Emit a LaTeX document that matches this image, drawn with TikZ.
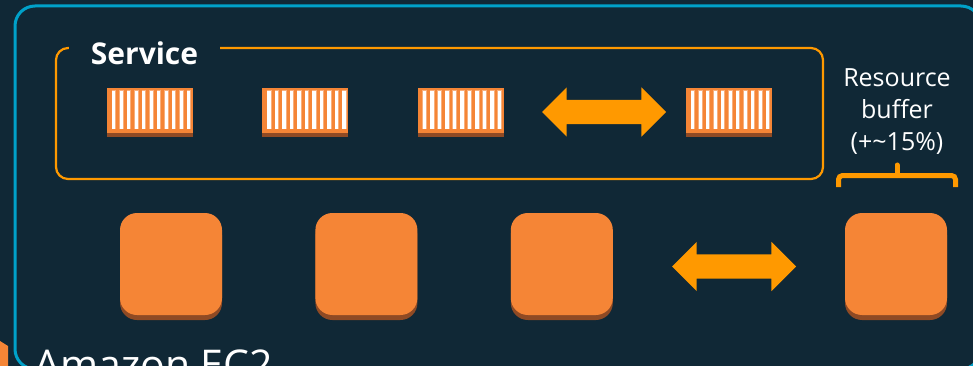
\documentclass[tikz,border=0pt]{standalone}
\usepackage{fontspec}
\setmainfont{Open Sans}
\usetikzlibrary{shapes.arrows, shadows, positioning}
\definecolor{navy}{HTML}{102836}
\definecolor{groupblue}{HTML}{00A1C9}
\definecolor{amber}{HTML}{FF9900}
\definecolor{ecorange}{HTML}{F58536}
\definecolor{ecshadow}{HTML}{8F4A24}

\begin{document}
\begin{tikzpicture}[x=1pt, y=-1pt,
        group/.style={draw=groupblue, line width=3pt, rounded corners=20pt},
        servicebox/.style={draw=amber, line width=2.2pt, rounded corners=12pt},
        server/.style={rectangle, fill=ecorange, rounded corners=17pt, minimum width=102pt, minimum height=102pt, inner sep=0pt,
            general shadow={fill=ecshadow, shadow yshift=-5pt}},
        container/.style={rectangle, fill=ecorange, minimum width=86pt, minimum height=45pt, inner sep=0pt,
            general shadow={fill=ecshadow, shadow yshift=-4pt},
            path picture={
                \foreach \i in {0,...,10} {
                    \fill[white, opacity=0.35] ([xshift={4.6pt+\i*7.5pt}, yshift=-2.5pt]path picture bounding box.north west) rectangle +(4.6pt, -39pt);
                    \fill[white] ([xshift={5pt+\i*7.5pt}, yshift=-3.5pt]path picture bounding box.north west) rectangle +(3.4pt, -38pt);
                }
            }},
        resize/.style={double arrow, fill=amber, minimum height=124pt, inner xsep=0pt, inner ysep=12pt,
            double arrow head extend=12.5pt, double arrow tip angle=90},
        brace/.style={draw=amber, line width=5pt, rounded corners=4pt},
        label/.style={text=white, font=\fontsize{25}{32}\selectfont, align=center}
    ]
        \useasboundingbox (0, 0) rectangle (973, 366);
        \fill[navy] (0, 0) rectangle (973, 366);

        % Outer group and the EC2 corner
        \draw [group] (15, 6) rectangle (981, 369);
        \fill [ecorange] (0, 341) -- (8, 346) -- (8, 366) -- (0, 366) -- cycle;
        \node (ec2) [anchor=base west, text=white, font=\fontsize{41}{41}\selectfont, inner sep=0pt] at (34, 379) {Amazon EC2};

        % Service
        \draw [servicebox] (56, 48) rectangle (823, 179);
        \node (service) [fill=navy, text=white, font=\fontsize{30}{30}\selectfont\bfseries, minimum width=151pt, minimum height=36pt, inner sep=0pt] at (144.5, 53) {Service};

        % Containers
        \node (task1) [container] at (150, 110.5) {};
        \node (task2) [container, right=69pt of task1] {};
        \node (task3) [container, right=69pt of task2] {};
        \node (task4) [container] at (729, 110.5) {};
        \node (taskresize) [resize] at (604, 112) {};

        % Servers
        \node (ec1) [server] at (171, 264) {};
        \node (ec2a) [server, right=93pt of ec1] {};
        \node (ec3) [server, right=93pt of ec2a] {};
        \node (ec4) [server] at (896, 264) {};
        \node (ecresize) [resize] at (734, 266.5) {};

        % Resource buffer
        \node (buffer) [label] at (897, 112) {Resource\\buffer\\(+\textasciitilde15\%)};
        \coordinate (brace_l) at (838.5, 187);
        \coordinate (brace_r) at (955.5, 187);
        \coordinate (brace_mid) at (897, 175.5);
        \coordinate (brace_top) at (897, 165);
        \draw [brace] (brace_l) |- (brace_mid) -| (brace_r);
        \draw [draw=amber, line width=5pt, line cap=round] (brace_top) -- (brace_mid);
    \end{tikzpicture}
\end{document}
